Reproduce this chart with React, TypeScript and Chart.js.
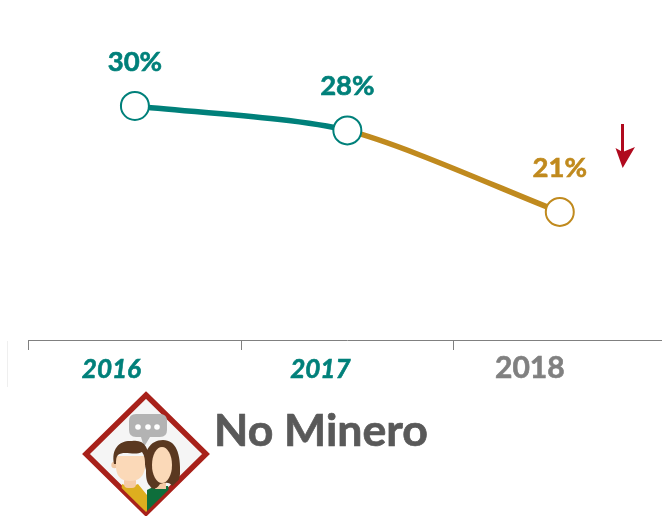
import React, { useEffect, useRef } from "react";
import { Chart, registerables } from "chart.js";

Chart.register(...registerables);

const categories = ["2016", "2017", "2018"];
const values = [30.1, 28, 21];
const valueLabels = ["30%", "28%", "21%"];
const TEAL = "#00807A";
const GOLD = "#C08A1E";
const pointColors = [TEAL, TEAL, GOLD];
const tickColors = [TEAL, TEAL, "#808080"];
const tickSizes = [26, 26, 30];
const tickStyles = ["italic", "italic", "normal"];
const tickNudgeX = [2.5, -1, -4];
const tickNudgeY = [2, 2, -2];
const FONT = "Lato, Carlito, Calibri, sans-serif";

const valueLabelPlugin = {
  id: "valueLabels",
  afterDatasetsDraw(chart: any) {
    const ctx = chart.ctx;
    const pts = chart.getDatasetMeta(0).data;
    ctx.save();
    ctx.font = `bold 27.5px ${FONT}`;
    ctx.textAlign = "center";
    ctx.textBaseline = "middle";
    ctx.lineWidth = 0.6;
    pts.forEach((p: any, i: number) => {
      ctx.fillStyle = pointColors[i];
      ctx.strokeStyle = pointColors[i];
      ctx.fillText(valueLabels[i], p.x, p.y - 44);
      ctx.strokeText(valueLabels[i], p.x, p.y - 44);
    });
    ctx.restore();
  },
};

export default function App() {
  const ref = useRef<HTMLCanvasElement>(null);
  useEffect(() => {
    const chart = new Chart(ref.current!, {
      type: "line",
      data: {
        labels: categories,
        datasets: [
          {
            data: values,
            borderWidth: 5.5,
            borderColor: TEAL,
            tension: 0.25,
            segment: {
              borderColor: (c: any) => pointColors[c.p1DataIndex],
            },
            pointRadius: 14,
            pointBorderWidth: 2,
            pointBackgroundColor: "#ffffff",
            pointBorderColor: pointColors,
          },
        ],
      },
      options: {
        responsive: false,
        animation: false,
        layout: { autoPadding: false, padding: { top: 14, bottom: 0, left: 28.7, right: 0 } },
        plugins: { legend: { display: false }, title: { display: false }, tooltip: { enabled: false } },
        scales: {
          x: {
            offset: true,
            border: { display: true, color: "#808080", width: 1 },
            grid: { display: true, drawOnChartArea: false, drawTicks: true, tickLength: 10, color: "#808080", offset: true },
            ticks: {
              maxRotation: 0,
              autoSkip: false,
              labelOffset: -26,
              padding: 2,
              textStrokeWidth: 0.6,
              textStrokeColor: (c: any) => tickColors[c.index],
              color: (c: any) => tickColors[c.index],
              font: (c: any) => ({ family: FONT, weight: "bold", size: tickSizes[c.index], style: tickStyles[c.index] }),
            },
            afterFit(scale: any) {
              scale.height = 176;
              scale.paddingLeft = 0;
              scale.paddingRight = 0;
            },
            afterUpdate(scale: any) {
              const base = scale.getLabelItems.bind(scale);
              scale.getLabelItems = (area: any) =>
                base(area).map((item: any, i: number) => ({
                  ...item,
                  options: {
                    ...item.options,
                    translation: [item.options.translation[0] + tickNudgeX[i], item.options.translation[1] + tickNudgeY[i]],
                  },
                }));
            },
          },
          y: { display: false, min: 10, max: 38 },
        },
      },
      plugins: [valueLabelPlugin],
    } as any);
    return () => chart.destroy();
  }, []);

  return (
    <div style={{ position: "absolute", left: 0, top: 0, width: 662, height: 516, overflow: "hidden", background: "#fff" }}>
      <canvas ref={ref} width={666} height={516} style={{ position: "absolute", left: 0, top: 0, display: "block" }} />
      <div style={{ position: "absolute", left: 7, top: 341, width: 1, height: 46, background: "#efefef" }} />
      <svg width={662} height={516} style={{ position: "absolute", left: 0, top: 0 }}>
        <rect x={621} y={124} width={3} height={28} fill="#B00A1E" />
        <path d="M615.5 148 L622.7 152 L635 147 L622.7 168 Z" fill="#B00A1E" />
        <defs>
          <clipPath id="dia"><path d="M146 396 L205 454 L146 512 L87 454 Z" /></clipPath>
        </defs>
        <path d="M146 395 L206 454 L146 513 L86 454 Z" fill="#F5F5F5" stroke="#A8211A" strokeWidth={5.5} />
        <g clipPath="url(#dia)">
          <path d="M136 414 h24 q7 0 7 7 v9 q0 7 -7 7 h-10 l-6 10 l-3 -10 h-5 q-7 0 -7 -7 v-9 q0 -7 7 -7 Z" fill="#B3B3B3" />
          <circle cx={138} cy={427} r={2.8} fill="#fff" /><circle cx={148} cy={427} r={2.8} fill="#fff" /><circle cx={157} cy={427} r={2.8} fill="#fff" />
          <path d="M122 484 L130 487 L138 484 L147 495 L147 520 L118 520 Z" fill="#DDAE1F" />
          <path d="M147 490 L155 486 L168 486 L175 520 L147 520 Z" fill="#0E6E3B" />
          <rect x={155} y={478} width={11} height={11} fill="#F5CBA6" />
          <path d="M146 470 C142 452 150 440 163 440 C176 440 181 454 180 474 C179 484 176 488 172 486 C170 482 166 482 160 484 C156 490 152 490 150 486 C146 482 146 476 146 470 Z" fill="#5A3820" />
          <ellipse cx={162} cy={465} rx={10} ry={18} fill="#FBD9B8" />
          <rect x={124} y={477} width={12} height={11} rx={4} fill="#F5CBA6" />
          <circle cx={114.5} cy={465} r={3.2} fill="#F0C8A4" />
          <path d="M116 456 L145 456 L145 468 Q143 481 130 481 Q117 481 116 468 Z" fill="#FBD9B8" />
          <path d="M114 464 C111 448 120 440 132 441 C144 439 150 448 148 462 L145 464 C145 458 144 455 142 452 C134 456 124 450 118 455 C116 457 116 460 116 464 Z" fill="#5A3820" />
        </g>
      </svg>
      <div style={{ position: "absolute", left: 214, top: 402, fontFamily: FONT, fontWeight: 700, fontSize: 44.6, lineHeight: "54px", color: "#595959", whiteSpace: "nowrap", WebkitTextStroke: "0.7px #595959" }}>No Minero</div>
    </div>
  );
}
